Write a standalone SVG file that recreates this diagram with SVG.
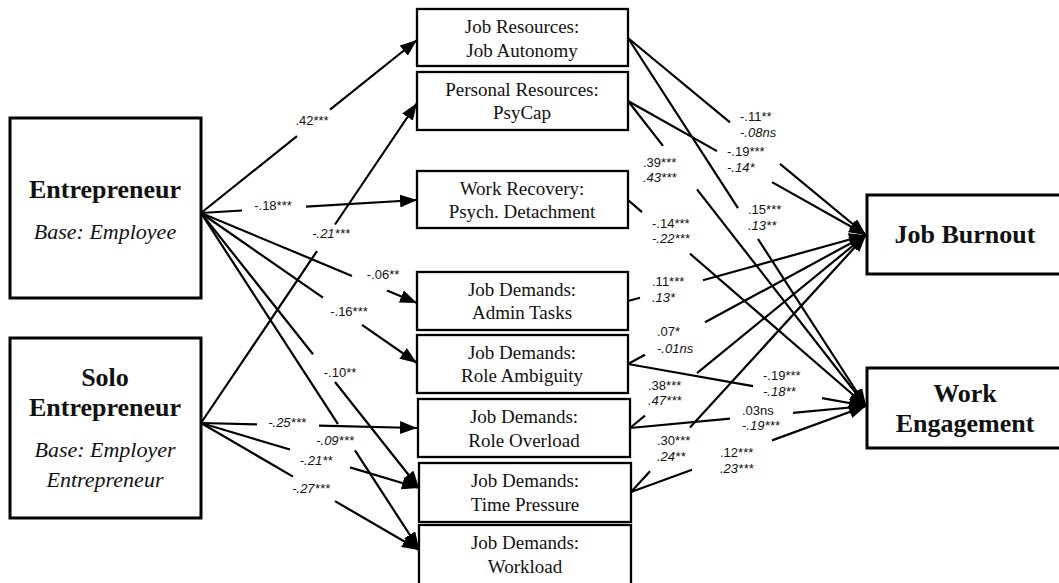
<svg xmlns="http://www.w3.org/2000/svg" width="1059" height="583" viewBox="0 0 1059 583">
<style>
.big{fill:#fff;stroke:#000;stroke-width:3}
.med{fill:#fff;stroke:#000;stroke-width:2.3}
.t{fill:#111;text-anchor:middle;font-family:Liberation Serif,Times New Roman,serif}
.tb{font-size:26px;font-weight:bold}
.ti{font-size:22px;font-style:italic}
.tm{font-size:19px}
.c{fill:none;stroke:#000;stroke-width:2.2;marker-end:url(#ah)}
.l{font-size:13px;fill:#111;font-family:Liberation Sans,Arial,sans-serif}
.lc{text-anchor:middle}
.i{font-style:italic}
</style>
<defs>
<marker id="ah" markerUnits="userSpaceOnUse" markerWidth="18" markerHeight="13" refX="17" refY="6.5" orient="auto">
<path d="M0,0 L17,6.5 L0,13 z" fill="#000"/>
</marker>
</defs>
<rect width="1059" height="583" fill="#fff"/>

<g id="connectors">
<path class="c" d="M201 213 L297 136.1 M330 109.7 L417 40"/>
<path class="c" d="M201 213 L242 210.5 M306 206.7 L417 200"/>
<path class="c" d="M201 213 L352 275.9 M387 290.5 L417 303"/>
<path class="c" d="M201 213 L323 297.7 M362 324.8 L417 363"/>
<path class="c" d="M201 213 L313 354.3 M335 382 L419 488"/>
<path class="c" d="M201 213 L338 424.2 M355 450.4 L419 549"/>
<path class="c" d="M201 423 L317 251.1 M335 224.5 L417 103"/>
<path class="c" d="M201 423 L257 424.3 M319 425.7 L417 428"/>
<path class="c" d="M201 423 L290 449.5 M350 467.4 L419 488"/>
<path class="c" d="M201 423 L293 476.6 M335 501.1 L419 550"/>

<path class="c" d="M628 38 L730 122.4 M780 163.8 L866 235"/>
<path class="c" d="M628 38 L738 208.1 M758 239 L866 406"/>
<path class="c" d="M628 101 L717 151.1 M772 182.1 L866 235"/>
<path class="c" d="M628 101 L663 145.9 M697 189.4 L866 406"/>
<path class="c" d="M628 200 L642 212.1 M690 253.7 L866 406"/>
<path class="c" d="M628 301 L640 297.7 M703 280.2 L866 235"/>
<path class="c" d="M628 364 L645 354.8 M705 322.3 L866 235"/>
<path class="c" d="M628 364 L753 386.1 M822 398.2 L866 406"/>
<path class="c" d="M630 428 L645 415.7 M697 373.2 L866 235"/>
<path class="c" d="M630 428 L730 418.7 M793 412.8 L866 406"/>
<path class="c" d="M631 492 L650 471.2 M690 427.5 L866 235"/>
<path class="c" d="M631 492 L692 469.7 M772 440.4 L866 406"/>

<text class="l lc" x="312" y="125">.42***</text>
<text class="l lc" x="273" y="210">-.18***</text>
<text class="l lc i" x="331" y="238">-.21***</text>
<text class="l lc" x="383" y="279">-.06**</text>
<text class="l lc" x="349" y="316">-.16***</text>
<text class="l lc" x="340" y="377">-.10**</text>
<text class="l lc i" x="287" y="427">-.25***</text>
<text class="l lc i" x="335" y="445">-.09***</text>
<text class="l lc i" x="316" y="465">-.21**</text>
<text class="l lc i" x="311" y="493">-.27***</text>

<text class="l" x="740" y="121">-.11**</text>
<text class="l i" x="740" y="137">-.08ns</text>
<text class="l" x="727" y="156">-.19***</text>
<text class="l i" x="727" y="172">-.14*</text>
<text class="l" x="643" y="167">.39***</text>
<text class="l i" x="643" y="182">.43***</text>
<text class="l" x="748" y="214">.15***</text>
<text class="l i" x="748" y="230">.13**</text>
<text class="l" x="652" y="228">-.14***</text>
<text class="l i" x="652" y="243">-.22***</text>
<text class="l" x="652" y="286">.11***</text>
<text class="l i" x="652" y="302">.13*</text>
<text class="l" x="657" y="336">.07*</text>
<text class="l i" x="657" y="353">-.01ns</text>
<text class="l" x="763" y="380">-.19***</text>
<text class="l i" x="763" y="396">-.18**</text>
<text class="l" x="648" y="390">.38***</text>
<text class="l i" x="648" y="405">.47***</text>
<text class="l" x="742" y="415">.03ns</text>
<text class="l i" x="742" y="430">-.19***</text>
<text class="l" x="657" y="445">.30***</text>
<text class="l i" x="657" y="461">.24**</text>
<text class="l" x="720" y="457">.12***</text>
<text class="l i" x="720" y="473">.23***</text>
</g>

<g id="entrepreneur">
<rect class="big" x="10" y="118" width="191" height="180"/>
<text class="t tb" x="105" y="198">Entrepreneur</text>
<text class="t ti" x="105" y="239">Base: Employee</text>
</g>
<g id="solo">
<rect class="big" x="10" y="338" width="191" height="180"/>
<text class="t tb" x="105" y="386">Solo</text>
<text class="t tb" x="105" y="416">Entrepreneur</text>
<text class="t ti" x="105" y="457">Base: Employer</text>
<text class="t ti" x="105" y="487">Entrepreneur</text>
</g>

<g id="job-autonomy">
<rect class="med" x="417" y="9" width="211" height="57"/>
<text class="t tm" x="522" y="33">Job Resources:</text>
<text class="t tm" x="522" y="57">Job Autonomy</text>
</g>
<g id="psycap">
<rect class="med" x="417" y="72" width="211" height="58"/>
<text class="t tm" x="522" y="96">Personal Resources:</text>
<text class="t tm" x="522" y="119">PsyCap</text>
</g>
<g id="psych-detachment">
<rect class="med" x="417" y="171" width="211" height="57"/>
<text class="t tm" x="522" y="195">Work Recovery:</text>
<text class="t tm" x="522" y="218">Psych. Detachment</text>
</g>
<g id="admin-tasks">
<rect class="med" x="417" y="272" width="211" height="58"/>
<text class="t tm" x="522" y="296">Job Demands:</text>
<text class="t tm" x="522" y="319">Admin Tasks</text>
</g>
<g id="role-ambiguity">
<rect class="med" x="417" y="335" width="211" height="58"/>
<text class="t tm" x="522" y="359">Job Demands:</text>
<text class="t tm" x="522" y="382">Role Ambiguity</text>
</g>
<g id="role-overload">
<rect class="med" x="418" y="399" width="212" height="58"/>
<text class="t tm" x="524" y="423">Job Demands:</text>
<text class="t tm" x="524" y="447">Role Overload</text>
</g>
<g id="time-pressure">
<rect class="med" x="419" y="463" width="212" height="59"/>
<text class="t tm" x="525" y="487">Job Demands:</text>
<text class="t tm" x="525" y="511">Time Pressure</text>
</g>
<g id="workload">
<rect class="med" x="419" y="525" width="212" height="64"/>
<text class="t tm" x="525" y="549">Job Demands:</text>
<text class="t tm" x="525" y="573">Workload</text>
</g>

<g id="job-burnout">
<rect class="big" x="867" y="195" width="200" height="79"/>
<text class="t tb" x="965" y="243">Job Burnout</text>
</g>
<g id="work-engagement">
<rect class="big" x="867" y="368" width="200" height="80"/>
<text class="t tb" x="965" y="402">Work</text>
<text class="t tb" x="965" y="432">Engagement</text>
</g>
</svg>
